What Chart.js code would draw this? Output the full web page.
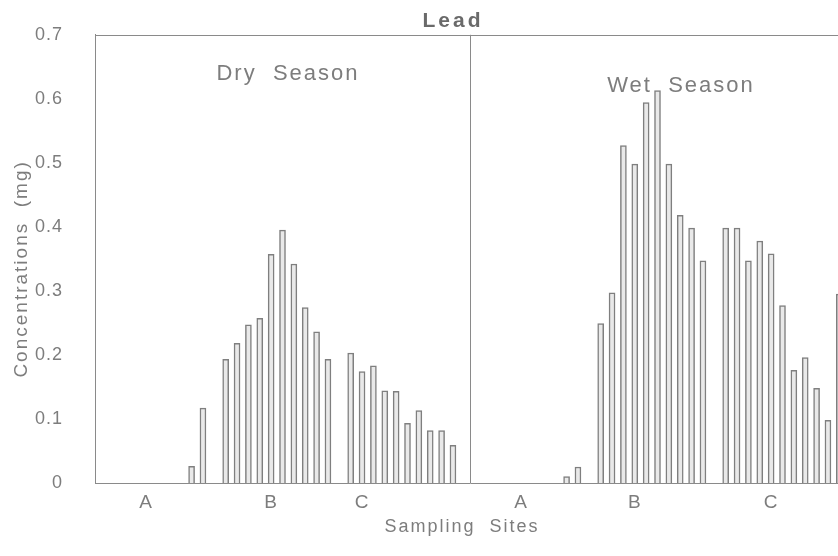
<!DOCTYPE html>
<html>
<head>
<meta charset="utf-8">
<title>Lead</title>
<script src="https://cdn.jsdelivr.net/npm/chart.js@4.4.1/dist/chart.umd.min.js"></script>
<style>
  html, body { margin: 0; padding: 0; background: #fff; overflow: hidden; }
  #wrap { width: 860px; height: 556px; }
</style>
</head>
<body>
<div id="wrap"><canvas id="leadChart" width="860" height="556"></canvas></div>
<script>
// ===== Lead concentration (mg) per sampling point =====
const dryA = [0.026, 0.117];
const dryB = [0.193, 0.218, 0.247, 0.257, 0.357, 0.395, 0.342, 0.274, 0.236, 0.193];
const dryC = [0.203, 0.174, 0.183, 0.144, 0.143, 0.093, 0.113, 0.082, 0.082, 0.059];

const wetA = [0.010, 0.025];
const wetB = [0.249, 0.297, 0.527, 0.498, 0.594, 0.613, 0.498, 0.418, 0.398, 0.347];
const wetC = [0.398, 0.398, 0.347, 0.378, 0.358, 0.277, 0.176, 0.196, 0.148, 0.098, 0.295];

const siteNames = ['A', 'B', 'C'];
const yTicks = ['0', '0.1', '0.2', '0.3', '0.4', '0.5', '0.6', '0.7'];

// each season panel is 33 slots wide: empty lead-in, A, gap, B, gap, C
const PANEL = 33;
const LEAD_IN = 8;
const dryLabelSlots = [4, 15, 23];
const wetLabelSlots = [37, 47, 59];

function buildPanel(a, b, c) {
  const slots = new Array(PANEL).fill(null);
  let i = LEAD_IN;
  a.forEach(v => { slots[i++] = v; });
  i++;
  b.forEach(v => { slots[i++] = v; });
  i++;
  c.forEach(v => { slots[i++] = v; });
  return slots;
}

const values = buildPanel(dryA, dryB, dryC).concat(buildPanel(wetA, wetB, wetC));
const labels = new Array(PANEL * 2).fill('');
dryLabelSlots.forEach((s, k) => { labels[s] = siteNames[k]; });
wetLabelSlots.forEach((s, k) => { labels[s] = siteNames[k]; });

const FONT = '"Liberation Sans", Arial, sans-serif';
const INK = '#7d7d7d';
const LINE = '#8a8a8a';

// frame, season captions and axis titles
const frame = {
  id: 'frame',
  beforeDraw(chart) {
    chart.ctx.letterSpacing = '1px';
  },
  afterDraw(chart) {
    const { ctx, chartArea: a, scales: { x } } = chart;
    const mid = (x.getPixelForValue(PANEL - 1) + x.getPixelForValue(PANEL)) / 2;

    ctx.save();
    ctx.strokeStyle = LINE;
    ctx.lineWidth = 1;
    ctx.beginPath();
    ctx.moveTo(a.left, Math.round(a.top) + 0.5);
    ctx.lineTo(a.right, Math.round(a.top) + 0.5);
    ctx.moveTo(Math.round(mid) + 0.5, a.top);
    ctx.lineTo(Math.round(mid) + 0.5, a.bottom);
    ctx.moveTo(a.right - 0.5, a.top);
    ctx.lineTo(a.right - 0.5, a.bottom);
    ctx.stroke();

    ctx.textAlign = 'center';
    ctx.textBaseline = 'middle';

    ctx.fillStyle = '#6a6a6a';
    ctx.letterSpacing = '3px';
    ctx.font = '600 21px ' + FONT;
    ctx.fillText('Lead', 453, 21);

    ctx.fillStyle = INK;
    ctx.letterSpacing = '2px';
    ctx.font = '22px ' + FONT;
    ctx.fillText('Dry  Season', 288, 74);
    ctx.fillText('Wet  Season', 681, 86);

    ctx.font = '18px ' + FONT;
    ctx.fillText('Sampling  Sites', 462, 527);

    ctx.translate(22, (a.top + a.bottom) / 2 + 10);
    ctx.rotate(-Math.PI / 2);
    ctx.font = '19px ' + FONT;
    ctx.fillText('Concentrations  (mg)', 0, 0);
    ctx.restore();
  }
};

new Chart(document.getElementById('leadChart'), {
  type: 'bar',
  data: {
    labels: labels,
    datasets: [{
      label: 'Lead',
      data: values,
      backgroundColor: '#e9e9e9',
      borderColor: '#7f7f7f',
      borderWidth: 1.5,
      barThickness: 6,
      borderSkipped: 'bottom'
    }]
  },
  options: {
    responsive: false,
    animation: false,
    layout: { padding: { top: 24, right: 15, left: 0, bottom: 0 } },
    plugins: {
      legend: { display: false },
      tooltip: { enabled: false },
      title: { display: false }
    },
    scales: {
      x: {
        grid: { display: false },
        border: { display: true, color: LINE, width: 1 },
        ticks: {
          autoSkip: false,
          maxRotation: 0,
          padding: 0,
          color: INK,
          font: { family: FONT, size: 19 }
        },
        afterFit(scale) { scale.height = 73; }
      },
      y: {
        min: 0,
        max: 0.7,
        grid: { display: false },
        border: { display: true, color: LINE, width: 1 },
        ticks: {
          stepSize: 0.1,
          padding: 24,
          color: INK,
          font: { family: FONT, size: 18 },
          callback: (v, i) => yTicks[i]
        },
        afterFit(scale) { scale.width = 95; }
      }
    }
  },
  plugins: [frame]
});
</script>
</body>
</html>
